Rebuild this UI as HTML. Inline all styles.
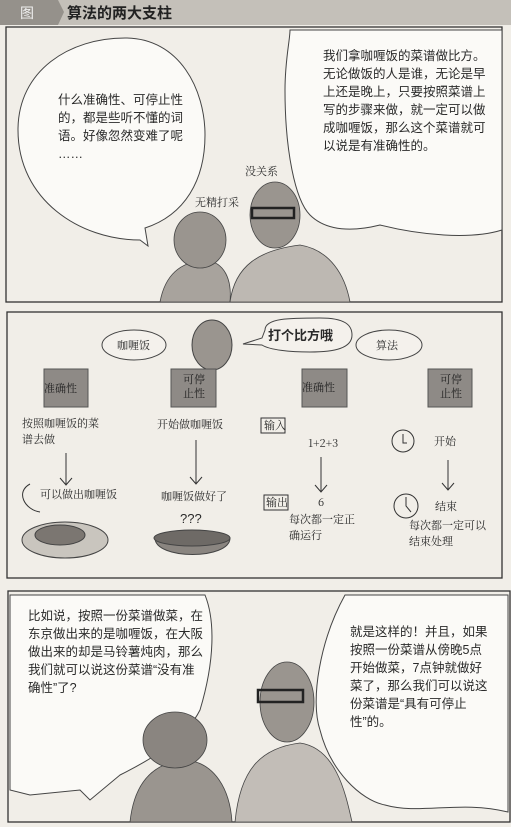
<!DOCTYPE html>
<html><head><meta charset="utf-8"><style>
body{margin:0;background:#f1eee8;}
svg{display:block}
text{font-family:"Liberation Sans","Noto Sans CJK SC",sans-serif;fill:#2a2a2a}
.s{font-size:12.5px}
.h{font-family:"Noto Serif CJK SC","Noto Sans CJK SC",serif;font-size:11px}
</style></head><body>
<svg width="511" height="827" viewBox="0 0 511 827" xmlns="http://www.w3.org/2000/svg">
<rect width="511" height="827" fill="#f1eee8"/>
<rect x="0" y="0" width="511" height="25" fill="#c4c0b9"/>
<polygon points="0,0 58,0 64,12 58,25 0,25" fill="#95918b"/>
<text x="20" y="18" style="font-size:14px;fill:#eee">图</text>
<text x="67" y="18" style="font-size:15px;fill:#222;font-weight:bold">算法的两大支柱</text>
<g fill="none" stroke="#333" stroke-width="1.3">
<rect x="6" y="27" width="496" height="275"/>
<rect x="7" y="312" width="495" height="266"/>
<rect x="8" y="591" width="502" height="231"/>
</g>
<g fill="#fbfaf7" stroke="#444" stroke-width="1">
<path d="M140,240 C80,240 18,200 18,130 C18,70 70,38 125,38 C180,38 205,90 205,135 C205,180 185,215 145,228 L148,246 Z"/>
<path d="M290,30 L502,30 L502,230 C470,240 420,235 380,225 C340,235 320,225 310,215 C295,200 285,150 285,90 C285,60 290,40 290,30 Z"/>
</g>
<text class="s"><tspan x="58" y="104">什么准确性、可停止性</tspan><tspan x="58" y="122">的，都是些听不懂的词</tspan><tspan x="58" y="140">语。好像忽然变难了呢</tspan><tspan x="58" y="158">……</tspan></text>
<text class="s"><tspan x="323" y="60">我们拿咖喱饭的菜谱做比方。</tspan><tspan x="323" y="78">无论做饭的人是谁，无论是早</tspan><tspan x="323" y="96">上还是晚上，只要按照菜谱上</tspan><tspan x="323" y="114">写的步骤来做，就一定可以做</tspan><tspan x="323" y="132">成咖喱饭，那么这个菜谱就可</tspan><tspan x="323" y="150">以说是有准确性的。</tspan></text>
<g fill="#9a958f" stroke="#444" stroke-width="0.8">
<path d="M160,302 C165,275 180,262 205,260 C225,262 232,280 230,302 Z" fill="#a8a39d"/>
<ellipse cx="200" cy="240" rx="26" ry="28"/>
<path d="M230,302 C235,265 260,250 300,245 C330,250 345,275 350,302 Z" fill="#bdb8b2"/>
<ellipse cx="275" cy="215" rx="25" ry="33"/>
<rect x="252" y="208" width="42" height="10" fill="none" stroke="#222" stroke-width="2.5"/>
</g>
<text class="h" x="245" y="175">没关系</text>
<text class="h" x="195" y="206">无精打采</text>
<g fill="#f4f1ec" stroke="#444" stroke-width="1">
<ellipse cx="134" cy="345" rx="32" ry="15"/>
<ellipse cx="389" cy="345" rx="33" ry="15"/>
<path d="M265,330 C265,318 290,318 320,318 C345,318 352,325 352,335 C352,348 335,352 310,352 C290,352 270,350 262,345 L243,344 L262,338 Z"/>
</g>
<ellipse cx="212" cy="345" rx="20" ry="25" fill="#9a958f" stroke="#444"/>
<text style="font-size:13px;font-weight:bold" x="268" y="340">打个比方哦</text>
<text class="h" x="117" y="349">咖喱饭</text>
<text class="h" x="376" y="349">算法</text>
<g fill="#8e8a86" stroke="#555">
<rect x="44" y="369" width="44" height="38"/>
<rect x="171" y="369" width="45" height="38"/>
<rect x="302" y="369" width="45" height="38"/>
<rect x="428" y="369" width="44" height="38"/>
</g>
<text class="h" style="fill:#222"><tspan x="44" y="392">准确性</tspan><tspan x="302" y="391">准确性</tspan><tspan x="183" y="383">可停</tspan><tspan x="183" y="397">止性</tspan><tspan x="440" y="383">可停</tspan><tspan x="440" y="397">止性</tspan></text>
<text class="h"><tspan x="22" y="427">按照咖喱饭的菜</tspan><tspan x="22" y="443">谱去做</tspan><tspan x="157" y="428">开始做咖喱饭</tspan><tspan x="40" y="498">可以做出咖喱饭</tspan><tspan x="161" y="500">咖喱饭做好了</tspan><tspan x="308" y="447">1+2+3</tspan><tspan x="318" y="506">6</tspan><tspan x="289" y="523">每次都一定正</tspan><tspan x="289" y="539">确运行</tspan><tspan x="434" y="445">开始</tspan><tspan x="435" y="510">结束</tspan><tspan x="409" y="529">每次都一定可以</tspan><tspan x="409" y="545">结束处理</tspan><tspan x="264" y="429">输入</tspan><tspan x="266" y="506">输出</tspan></text>
<g fill="none" stroke="#333" stroke-width="1">
<rect x="261" y="418" width="24" height="15"/><rect x="264" y="495" width="24" height="15"/>
<path d="M66,453 V485 M60,478 L66,485 L72,478"/>
<path d="M196,440 V484 M190,477 L196,484 L202,477"/>
<path d="M321,457 V492 M315,485 L321,492 L327,485"/>
<path d="M448,460 V490 M442,483 L448,490 L454,483"/>
<circle cx="403" cy="441" r="11"/><path d="M403,434 V443 H407"/>
<circle cx="406" cy="506" r="12"/><path d="M406,497 V506 L411,512"/>
<path d="M30,484 C15,492 25,510 40,512"/>
</g>
<g stroke="#444" stroke-width="1">
<ellipse cx="65" cy="540" rx="43" ry="18" fill="#c9c5be"/>
<ellipse cx="60" cy="535" rx="25" ry="10" fill="#7b7671"/>
<path d="M155,538 C155,560 230,560 230,538 Z" fill="#8a8580"/>
<ellipse cx="192" cy="538" rx="38" ry="8" fill="#6e6a66"/>
</g>
<text style="font-size:13px" x="180" y="523">???</text>
<g fill="#fbfaf7" stroke="#444" stroke-width="1">
<path d="M10,595 L205,595 C215,620 215,660 200,710 C185,740 150,760 120,775 L90,800 L80,790 L30,795 L10,790 Z"/>
<path d="M345,595 L508,595 L508,812 C460,800 420,815 385,805 C360,800 330,770 320,730 C310,700 320,640 345,595 Z"/>
</g>
<text class="s"><tspan x="28" y="620">比如说，按照一份菜谱做菜，在</tspan><tspan x="28" y="638">东京做出来的是咖喱饭，在大阪</tspan><tspan x="28" y="656">做出来的却是马铃薯炖肉，那么</tspan><tspan x="28" y="674">我们就可以说这份菜谱“没有准</tspan><tspan x="28" y="692">确性”了?</tspan></text>
<text class="s"><tspan x="350" y="636">就是这样的！并且，如果</tspan><tspan x="350" y="654">按照一份菜谱从傍晚5点</tspan><tspan x="350" y="672">开始做菜，7点钟就做好</tspan><tspan x="350" y="690">菜了，那么我们可以说这</tspan><tspan x="350" y="708">份菜谱是“具有可停止</tspan><tspan x="350" y="726">性”的。</tspan></text>
<g stroke="#444" stroke-width="0.8">
<path d="M130,822 C135,775 160,762 185,760 C215,762 230,790 232,822 Z" fill="#9a958f"/>
<ellipse cx="175" cy="740" rx="32" ry="28" fill="#8a8580"/>
<path d="M235,822 C240,770 260,748 300,743 C335,748 345,790 352,822 Z" fill="#c2bdb7"/>
<ellipse cx="287" cy="702" rx="27" ry="40" fill="#9a958f"/>
<rect x="258" y="690" width="45" height="12" fill="none" stroke="#222" stroke-width="2.5"/>
</g>
</svg>
</body></html>
